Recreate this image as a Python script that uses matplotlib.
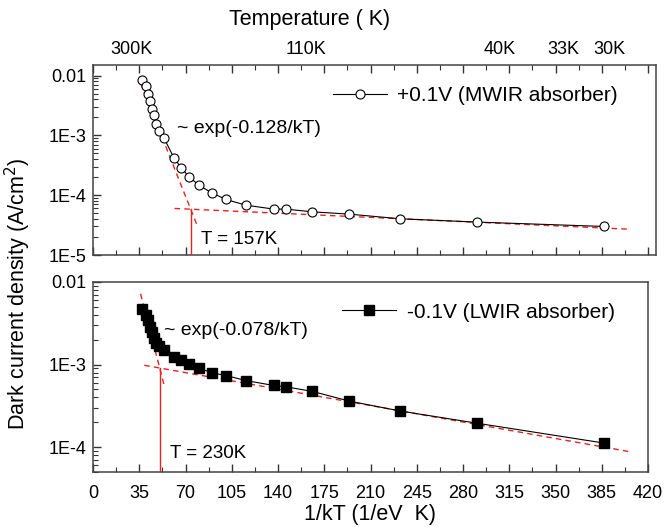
import numpy as np
import matplotlib
matplotlib.use("Agg")
import matplotlib.pyplot as plt
from matplotlib.ticker import FixedLocator, FixedFormatter, LogLocator, NullFormatter

plt.rcParams['font.family'] = ['Liberation Sans', 'DejaVu Sans']

k_B = 8.617e-5  # eV/K

# 1/kT (1/eV) of each measurement
inv_kt = [37.3, 40.1, 41.9, 43.1, 44.4, 46.2, 47.7, 50.0, 53.7, 61.3, 66.6, 72.7,
          80.2, 89.9, 100.7, 115.6, 136.8, 145.9, 166.0, 194.0, 232.4, 290.5, 386.8]

# dark current density (A/cm2)
j_mwir = [8.57e-3, 6.56e-3, 4.95e-3, 3.73e-3, 2.79e-3, 2.15e-3, 1.57e-3, 1.18e-3,
          9.0e-4, 4.18e-4, 2.9e-4, 2.02e-4, 1.47e-4, 1.09e-4, 8.47e-5, 6.81e-5,
          5.85e-5, 5.85e-5, 5.27e-5, 4.82e-5, 4.03e-5, 3.55e-5, 3.0e-5]
j_lwir = [4.69e-3, 4.0e-3, 3.42e-3, 2.89e-3, 2.45e-3, 2.10e-3, 1.83e-3, 1.66e-3,
          1.52e-3, 1.24e-3, 1.15e-3, 1.03e-3, 9.12e-4, 7.94e-4, 7.37e-4, 6.41e-4,
          5.58e-4, 5.38e-4, 4.73e-4, 3.61e-4, 2.74e-4, 1.95e-4, 1.12e-4]

# Arrhenius fits: J = J0 * exp(-Ea * (1/kT))
mwir_lo_j0, mwir_lo_ea = 6.92e-5, 0.00232
mwir_hi_ea, mwir_cross_t = 0.128, 157
lwir_lo_j0, lwir_lo_ea = 1.265e-3, 0.00656
lwir_hi_ea, lwir_cross_t = 0.143, 230

mwir_hi_range = (36.0, 78.5)
mwir_lo_range = (61.7, 405.0)
lwir_hi_range = (36.0, 54.0)
lwir_lo_range = (38.8, 405.0)

x_ticks = [0, 35, 70, 105, 140, 175, 210, 245, 280, 315, 350, 385, 420]
temp_tick_pos = [28.8, 161.2, 308.0, 356.0, 391.0]
temp_tick_labels = ['300K', '110K', '40K', '33K', '30K']

top_y_ticks = [1e-5, 1e-4, 1e-3, 1e-2]
top_y_labels = ['1E-5', '1E-4', '1E-3', '0.01']
bot_y_ticks = [1e-4, 1e-3, 1e-2]
bot_y_labels = ['1E-4', '1E-3', '0.01']

W, H = 666, 527
fig = plt.figure(figsize=(W / 100, H / 100), dpi=100)
ax1 = fig.add_axes([93 / W, 1 - 255 / H, 563 / W, 190 / H])
ax2 = fig.add_axes([93 / W, 1 - 472 / H, 555 / W, 190 / H])

red = '#e8231f'
tick_fs = 13


def style_axes(ax, yticks, ylabels, ylim, xlim):
    ax.set_yscale('log')
    ax.set_ylim(*ylim)
    ax.set_xlim(*xlim)
    ax.yaxis.set_major_locator(FixedLocator(yticks))
    ax.yaxis.set_major_formatter(FixedFormatter(ylabels))
    ax.yaxis.set_minor_locator(LogLocator(base=10, subs=np.arange(2, 10)))
    ax.yaxis.set_minor_formatter(NullFormatter())
    ax.xaxis.set_major_locator(FixedLocator(x_ticks))
    ax.xaxis.set_minor_locator(FixedLocator([t + 17.5 for t in x_ticks]))
    ax.tick_params(which='both', direction='in', right=False, color='#333333',
                   labelsize=tick_fs, pad=5)
    ax.tick_params(axis='x', which='both', pad=9)
    ax.tick_params(which='major', length=6, width=1)
    ax.tick_params(which='minor', length=3.5, width=0.8)
    for s in ax.spines.values():
        s.set_color('#444444')
        s.set_linewidth(1.1)


def fit_line(ax, j0, ea, xr):
    xs = np.linspace(xr[0], xr[1], 50)
    ax.plot(xs, j0 * np.exp(-ea * xs), color=red, lw=1.0, ls=(0, (4, 3)), zorder=3)


def steep_j0(lo_j0, lo_ea, hi_ea, t_cross):
    xc = 1 / (k_B * t_cross)
    jc = lo_j0 * np.exp(-lo_ea * xc)
    return jc * np.exp(hi_ea * xc), xc, jc


# upper panel: +0.1V
style_axes(ax1, top_y_ticks, top_y_labels, (1e-5, 1.5e-2), (0, 426))
ax1.tick_params(which='both', top=True, labelbottom=False)
ax1.plot(inv_kt, j_mwir, color='black', lw=0.8, marker='o', ms=6.5,
         mfc='white', mec='black', mew=0.8, zorder=4, label='+0.1V (MWIR absorber)')
hi_j0, xc, jc = steep_j0(mwir_lo_j0, mwir_lo_ea, mwir_hi_ea, mwir_cross_t)
fit_line(ax1, hi_j0, mwir_hi_ea, mwir_hi_range)
fit_line(ax1, mwir_lo_j0, mwir_lo_ea, mwir_lo_range)
ax1.plot([xc, xc], [1e-5, jc], color=red, lw=1.0, zorder=3)
ax1.text(0.149, 0.668, '~ exp(-0.128/kT)', transform=ax1.transAxes,
         fontsize=14, va='center', ha='left')
ax1.text(0.192, 0.08, 'T = %dK' % mwir_cross_t, transform=ax1.transAxes,
         fontsize=13.5, va='center', ha='left')
ax1.legend(loc='center left', bbox_to_anchor=(0.426, 0.837), frameon=False,
           fontsize=15, handlelength=2.6, handletextpad=0.5, borderpad=0,
           borderaxespad=0)

top = ax1.secondary_xaxis('top')
top.xaxis.set_major_locator(FixedLocator(temp_tick_pos))
top.xaxis.set_major_formatter(FixedFormatter(temp_tick_labels))
top.tick_params(length=0, labelsize=tick_fs, pad=5)
top.spines['top'].set_visible(False)
fig.text(310 / W, 1 - 20 / H, 'Temperature ( K)', fontsize=15.5,
         ha='center', va='center')

# lower panel: -0.1V
style_axes(ax2, bot_y_ticks, bot_y_labels, (5e-5, 1e-2), (0, 420))
ax2.xaxis.set_major_formatter(FixedFormatter([str(t) for t in x_ticks]))
ax2.plot(inv_kt, j_lwir, color='black', lw=0.8, marker='s', ms=6.5,
         mfc='black', mec='black', zorder=4, label='-0.1V (LWIR absorber)')
hi_j0, xc, jc = steep_j0(lwir_lo_j0, lwir_lo_ea, lwir_hi_ea, lwir_cross_t)
fit_line(ax2, hi_j0, lwir_hi_ea, lwir_hi_range)
fit_line(ax2, lwir_lo_j0, lwir_lo_ea, lwir_lo_range)
ax2.plot([xc, xc], [5e-5, jc], color=red, lw=1.0, zorder=3)
ax2.text(0.128, 0.747, '~ exp(-0.078/kT)', transform=ax2.transAxes,
         fontsize=14, va='center', ha='left')
ax2.text(0.139, 0.095, 'T = %dK' % lwir_cross_t, transform=ax2.transAxes,
         fontsize=13.5, va='center', ha='left')
ax2.legend(loc='center left', bbox_to_anchor=(0.449, 0.842), frameon=False,
           fontsize=15, handlelength=2.6, handletextpad=0.5, borderpad=0,
           borderaxespad=0)
ax2.set_xlabel('1/kT (1/eV  K)', fontsize=15.5, labelpad=2)

fig.text(18 / W, 1 - 294 / H, 'Dark current density (A/cm$^2$)', rotation=90,
         fontsize=15.5, ha='center', va='center')

fig.savefig('out.png', dpi=100)
